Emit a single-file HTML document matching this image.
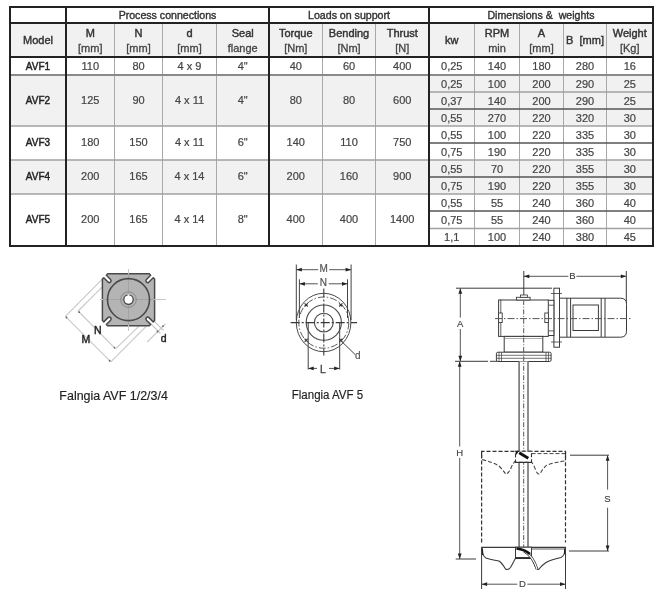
<!DOCTYPE html>
<html><head><meta charset="utf-8"><style>
html,body{margin:0;padding:0;background:#fff;width:662px;height:593px;overflow:hidden}
svg{display:block;font-family:"Liberation Sans", sans-serif;will-change:transform}
text{white-space:pre}
</style></head><body>
<svg width="662" height="593" viewBox="0 0 662 593">
<rect width="662" height="593" fill="#fff"/>
<rect x="10" y="23" width="643" height="34" fill="#f1f1f1"/>
<rect x="10" y="75" width="643" height="51" fill="#f1f1f1"/>
<rect x="10" y="160" width="643" height="34" fill="#f1f1f1"/>
<line x1="114.5" y1="23" x2="114.5" y2="246" stroke="#a8a8a8" stroke-width="1"/>
<line x1="162.5" y1="23" x2="162.5" y2="246" stroke="#a8a8a8" stroke-width="1"/>
<line x1="216.5" y1="23" x2="216.5" y2="246" stroke="#a8a8a8" stroke-width="1"/>
<line x1="322.5" y1="23" x2="322.5" y2="246" stroke="#a8a8a8" stroke-width="1"/>
<line x1="375.5" y1="23" x2="375.5" y2="246" stroke="#a8a8a8" stroke-width="1"/>
<line x1="474.5" y1="23" x2="474.5" y2="246" stroke="#a8a8a8" stroke-width="1"/>
<line x1="519.5" y1="23" x2="519.5" y2="246" stroke="#a8a8a8" stroke-width="1"/>
<line x1="563.5" y1="23" x2="563.5" y2="246" stroke="#a8a8a8" stroke-width="1"/>
<line x1="606.5" y1="23" x2="606.5" y2="246" stroke="#a8a8a8" stroke-width="1"/>
<line x1="10" y1="75" x2="653" y2="75" stroke="#8a8a8a" stroke-width="2"/>
<line x1="10" y1="126" x2="653" y2="126" stroke="#a0a0a0" stroke-width="1.5"/>
<line x1="10" y1="160" x2="653" y2="160" stroke="#a0a0a0" stroke-width="1.5"/>
<line x1="10" y1="194" x2="653" y2="194" stroke="#a0a0a0" stroke-width="1.5"/>
<line x1="429" y1="92" x2="653" y2="92" stroke="#a0a0a0" stroke-width="1.5"/>
<line x1="429" y1="109" x2="653" y2="109" stroke="#555" stroke-width="1.6"/>
<line x1="429" y1="143" x2="653" y2="143" stroke="#555" stroke-width="1.6"/>
<line x1="429" y1="177" x2="653" y2="177" stroke="#555" stroke-width="1.6"/>
<line x1="429" y1="211" x2="653" y2="211" stroke="#555" stroke-width="1.6"/>
<line x1="429" y1="228.5" x2="653" y2="228.5" stroke="#a0a0a0" stroke-width="1.5"/>
<line x1="9" y1="7" x2="654" y2="7" stroke="#222" stroke-width="2"/>
<line x1="9" y1="23" x2="654" y2="23" stroke="#222" stroke-width="2"/>
<line x1="9" y1="57" x2="654" y2="57" stroke="#222" stroke-width="2"/>
<line x1="9" y1="246" x2="654" y2="246" stroke="#222" stroke-width="2"/>
<line x1="10" y1="6" x2="10" y2="247" stroke="#222" stroke-width="2"/>
<line x1="66" y1="6" x2="66" y2="247" stroke="#222" stroke-width="2"/>
<line x1="269" y1="6" x2="269" y2="247" stroke="#222" stroke-width="2"/>
<line x1="429" y1="6" x2="429" y2="247" stroke="#222" stroke-width="2"/>
<line x1="653" y1="6" x2="653" y2="247" stroke="#222" stroke-width="2"/>
<text x="167.5" y="18.7" font-size="10.6" fill="#333" font-weight="normal" text-anchor="middle" stroke="#333" stroke-width="0.38" >Process connections</text>
<text x="349.0" y="18.7" font-size="10.6" fill="#333" font-weight="normal" text-anchor="middle" stroke="#333" stroke-width="0.38" >Loads on support</text>
<text x="541.0" y="18.7" font-size="10.6" fill="#333" font-weight="normal" text-anchor="middle" stroke="#333" stroke-width="0.38" >Dimensions &amp;  weights</text>
<text x="38.0" y="44.4" font-size="11" fill="#333" font-weight="normal" text-anchor="middle" stroke="#333" stroke-width="0.42" >Model</text>
<text x="90.25" y="36.6" font-size="11" fill="#333" font-weight="normal" text-anchor="middle" stroke="#333" stroke-width="0.42" >M</text>
<text x="90.25" y="52" font-size="11" fill="#444" font-weight="normal" text-anchor="middle" stroke="#444" stroke-width="0.3" >[mm]</text>
<text x="138.5" y="36.6" font-size="11" fill="#333" font-weight="normal" text-anchor="middle" stroke="#333" stroke-width="0.42" >N</text>
<text x="138.5" y="52" font-size="11" fill="#444" font-weight="normal" text-anchor="middle" stroke="#444" stroke-width="0.3" >[mm]</text>
<text x="189.5" y="36.6" font-size="11" fill="#333" font-weight="normal" text-anchor="middle" stroke="#333" stroke-width="0.42" >d</text>
<text x="189.5" y="52" font-size="11" fill="#444" font-weight="normal" text-anchor="middle" stroke="#444" stroke-width="0.3" >[mm]</text>
<text x="242.75" y="36.6" font-size="11" fill="#333" font-weight="normal" text-anchor="middle" stroke="#333" stroke-width="0.42" >Seal</text>
<text x="242.75" y="52" font-size="11" fill="#444" font-weight="normal" text-anchor="middle" stroke="#444" stroke-width="0.3" >flange</text>
<text x="295.75" y="36.6" font-size="11" fill="#333" font-weight="normal" text-anchor="middle" stroke="#333" stroke-width="0.42" >Torque</text>
<text x="295.75" y="52" font-size="11" fill="#444" font-weight="normal" text-anchor="middle" stroke="#444" stroke-width="0.3" >[Nm]</text>
<text x="349.0" y="36.6" font-size="11" fill="#333" font-weight="normal" text-anchor="middle" stroke="#333" stroke-width="0.42" >Bending</text>
<text x="349.0" y="52" font-size="11" fill="#444" font-weight="normal" text-anchor="middle" stroke="#444" stroke-width="0.3" >[Nm]</text>
<text x="402.25" y="36.6" font-size="11" fill="#333" font-weight="normal" text-anchor="middle" stroke="#333" stroke-width="0.42" >Thrust</text>
<text x="402.25" y="52" font-size="11" fill="#444" font-weight="normal" text-anchor="middle" stroke="#444" stroke-width="0.3" >[N]</text>
<text x="451.75" y="44.4" font-size="11" fill="#333" font-weight="normal" text-anchor="middle" stroke="#333" stroke-width="0.42" >kw</text>
<text x="497.0" y="36.6" font-size="11" fill="#333" font-weight="normal" text-anchor="middle" stroke="#333" stroke-width="0.42" >RPM</text>
<text x="497.0" y="52" font-size="11" fill="#444" font-weight="normal" text-anchor="middle" stroke="#444" stroke-width="0.3" >min</text>
<text x="541.5" y="36.6" font-size="11" fill="#333" font-weight="normal" text-anchor="middle" stroke="#333" stroke-width="0.42" >A</text>
<text x="541.5" y="52" font-size="11" fill="#444" font-weight="normal" text-anchor="middle" stroke="#444" stroke-width="0.3" >[mm]</text>
<text x="585.0" y="44.4" font-size="11" fill="#333" font-weight="normal" text-anchor="middle" stroke="#333" stroke-width="0.42" >B  [mm]</text>
<text x="629.75" y="36.6" font-size="11" fill="#333" font-weight="normal" text-anchor="middle" stroke="#333" stroke-width="0.42" >Weight</text>
<text x="629.75" y="52" font-size="11" fill="#444" font-weight="normal" text-anchor="middle" stroke="#444" stroke-width="0.3" >[Kg]</text>
<text x="38.0" y="70.0" font-size="11" fill="#222" font-weight="normal" text-anchor="middle" stroke="#222" stroke-width="0.45" textLength="24.3" lengthAdjust="spacingAndGlyphs">AVF1</text>
<text x="90.25" y="70.0" font-size="11" fill="#444" font-weight="normal" text-anchor="middle" stroke="#444" stroke-width="0.2" >110</text>
<text x="138.5" y="70.0" font-size="11" fill="#444" font-weight="normal" text-anchor="middle" stroke="#444" stroke-width="0.2" >80</text>
<text x="189.5" y="70.0" font-size="11" fill="#444" font-weight="normal" text-anchor="middle" stroke="#444" stroke-width="0.2" >4 x 9</text>
<text x="242.75" y="70.0" font-size="11" fill="#444" font-weight="normal" text-anchor="middle" stroke="#444" stroke-width="0.2" >4"</text>
<text x="295.75" y="70.0" font-size="11" fill="#444" font-weight="normal" text-anchor="middle" stroke="#444" stroke-width="0.2" >40</text>
<text x="349.0" y="70.0" font-size="11" fill="#444" font-weight="normal" text-anchor="middle" stroke="#444" stroke-width="0.2" >60</text>
<text x="402.25" y="70.0" font-size="11" fill="#444" font-weight="normal" text-anchor="middle" stroke="#444" stroke-width="0.2" >400</text>
<text x="38.0" y="103.75" font-size="11" fill="#222" font-weight="normal" text-anchor="middle" stroke="#222" stroke-width="0.45" textLength="24.3" lengthAdjust="spacingAndGlyphs">AVF2</text>
<text x="90.25" y="103.75" font-size="11" fill="#444" font-weight="normal" text-anchor="middle" stroke="#444" stroke-width="0.2" >125</text>
<text x="138.5" y="103.75" font-size="11" fill="#444" font-weight="normal" text-anchor="middle" stroke="#444" stroke-width="0.2" >90</text>
<text x="189.5" y="103.75" font-size="11" fill="#444" font-weight="normal" text-anchor="middle" stroke="#444" stroke-width="0.2" >4 x 11</text>
<text x="242.75" y="103.75" font-size="11" fill="#444" font-weight="normal" text-anchor="middle" stroke="#444" stroke-width="0.2" >4"</text>
<text x="295.75" y="103.75" font-size="11" fill="#444" font-weight="normal" text-anchor="middle" stroke="#444" stroke-width="0.2" >80</text>
<text x="349.0" y="103.75" font-size="11" fill="#444" font-weight="normal" text-anchor="middle" stroke="#444" stroke-width="0.2" >80</text>
<text x="402.25" y="103.75" font-size="11" fill="#444" font-weight="normal" text-anchor="middle" stroke="#444" stroke-width="0.2" >600</text>
<text x="38.0" y="146.25" font-size="11" fill="#222" font-weight="normal" text-anchor="middle" stroke="#222" stroke-width="0.45" textLength="24.3" lengthAdjust="spacingAndGlyphs">AVF3</text>
<text x="90.25" y="146.25" font-size="11" fill="#444" font-weight="normal" text-anchor="middle" stroke="#444" stroke-width="0.2" >180</text>
<text x="138.5" y="146.25" font-size="11" fill="#444" font-weight="normal" text-anchor="middle" stroke="#444" stroke-width="0.2" >150</text>
<text x="189.5" y="146.25" font-size="11" fill="#444" font-weight="normal" text-anchor="middle" stroke="#444" stroke-width="0.2" >4 x 11</text>
<text x="242.75" y="146.25" font-size="11" fill="#444" font-weight="normal" text-anchor="middle" stroke="#444" stroke-width="0.2" >6"</text>
<text x="295.75" y="146.25" font-size="11" fill="#444" font-weight="normal" text-anchor="middle" stroke="#444" stroke-width="0.2" >140</text>
<text x="349.0" y="146.25" font-size="11" fill="#444" font-weight="normal" text-anchor="middle" stroke="#444" stroke-width="0.2" >110</text>
<text x="402.25" y="146.25" font-size="11" fill="#444" font-weight="normal" text-anchor="middle" stroke="#444" stroke-width="0.2" >750</text>
<text x="38.0" y="180.25" font-size="11" fill="#222" font-weight="normal" text-anchor="middle" stroke="#222" stroke-width="0.45" textLength="24.3" lengthAdjust="spacingAndGlyphs">AVF4</text>
<text x="90.25" y="180.25" font-size="11" fill="#444" font-weight="normal" text-anchor="middle" stroke="#444" stroke-width="0.2" >200</text>
<text x="138.5" y="180.25" font-size="11" fill="#444" font-weight="normal" text-anchor="middle" stroke="#444" stroke-width="0.2" >165</text>
<text x="189.5" y="180.25" font-size="11" fill="#444" font-weight="normal" text-anchor="middle" stroke="#444" stroke-width="0.2" >4 x 14</text>
<text x="242.75" y="180.25" font-size="11" fill="#444" font-weight="normal" text-anchor="middle" stroke="#444" stroke-width="0.2" >6"</text>
<text x="295.75" y="180.25" font-size="11" fill="#444" font-weight="normal" text-anchor="middle" stroke="#444" stroke-width="0.2" >200</text>
<text x="349.0" y="180.25" font-size="11" fill="#444" font-weight="normal" text-anchor="middle" stroke="#444" stroke-width="0.2" >160</text>
<text x="402.25" y="180.25" font-size="11" fill="#444" font-weight="normal" text-anchor="middle" stroke="#444" stroke-width="0.2" >900</text>
<text x="38.0" y="223.25" font-size="11" fill="#222" font-weight="normal" text-anchor="middle" stroke="#222" stroke-width="0.45" textLength="24.3" lengthAdjust="spacingAndGlyphs">AVF5</text>
<text x="90.25" y="223.25" font-size="11" fill="#444" font-weight="normal" text-anchor="middle" stroke="#444" stroke-width="0.2" >200</text>
<text x="138.5" y="223.25" font-size="11" fill="#444" font-weight="normal" text-anchor="middle" stroke="#444" stroke-width="0.2" >165</text>
<text x="189.5" y="223.25" font-size="11" fill="#444" font-weight="normal" text-anchor="middle" stroke="#444" stroke-width="0.2" >4 x 14</text>
<text x="242.75" y="223.25" font-size="11" fill="#444" font-weight="normal" text-anchor="middle" stroke="#444" stroke-width="0.2" >8"</text>
<text x="295.75" y="223.25" font-size="11" fill="#444" font-weight="normal" text-anchor="middle" stroke="#444" stroke-width="0.2" >400</text>
<text x="349.0" y="223.25" font-size="11" fill="#444" font-weight="normal" text-anchor="middle" stroke="#444" stroke-width="0.2" >400</text>
<text x="402.25" y="223.25" font-size="11" fill="#444" font-weight="normal" text-anchor="middle" stroke="#444" stroke-width="0.2" >1400</text>
<text x="451.75" y="70.0" font-size="11" fill="#444" font-weight="normal" text-anchor="middle" stroke="#444" stroke-width="0.2" >0,25</text>
<text x="497.0" y="70.0" font-size="11" fill="#444" font-weight="normal" text-anchor="middle" stroke="#444" stroke-width="0.2" >140</text>
<text x="541.5" y="70.0" font-size="11" fill="#444" font-weight="normal" text-anchor="middle" stroke="#444" stroke-width="0.2" >180</text>
<text x="585.0" y="70.0" font-size="11" fill="#444" font-weight="normal" text-anchor="middle" stroke="#444" stroke-width="0.2" >280</text>
<text x="629.75" y="70.0" font-size="11" fill="#444" font-weight="normal" text-anchor="middle" stroke="#444" stroke-width="0.2" >16</text>
<text x="451.75" y="87.5" font-size="11" fill="#444" font-weight="normal" text-anchor="middle" stroke="#444" stroke-width="0.2" >0,25</text>
<text x="497.0" y="87.5" font-size="11" fill="#444" font-weight="normal" text-anchor="middle" stroke="#444" stroke-width="0.2" >100</text>
<text x="541.5" y="87.5" font-size="11" fill="#444" font-weight="normal" text-anchor="middle" stroke="#444" stroke-width="0.2" >200</text>
<text x="585.0" y="87.5" font-size="11" fill="#444" font-weight="normal" text-anchor="middle" stroke="#444" stroke-width="0.2" >290</text>
<text x="629.75" y="87.5" font-size="11" fill="#444" font-weight="normal" text-anchor="middle" stroke="#444" stroke-width="0.2" >25</text>
<text x="451.75" y="104.5" font-size="11" fill="#444" font-weight="normal" text-anchor="middle" stroke="#444" stroke-width="0.2" >0,37</text>
<text x="497.0" y="104.5" font-size="11" fill="#444" font-weight="normal" text-anchor="middle" stroke="#444" stroke-width="0.2" >140</text>
<text x="541.5" y="104.5" font-size="11" fill="#444" font-weight="normal" text-anchor="middle" stroke="#444" stroke-width="0.2" >200</text>
<text x="585.0" y="104.5" font-size="11" fill="#444" font-weight="normal" text-anchor="middle" stroke="#444" stroke-width="0.2" >290</text>
<text x="629.75" y="104.5" font-size="11" fill="#444" font-weight="normal" text-anchor="middle" stroke="#444" stroke-width="0.2" >25</text>
<text x="451.75" y="121.5" font-size="11" fill="#444" font-weight="normal" text-anchor="middle" stroke="#444" stroke-width="0.2" >0,55</text>
<text x="497.0" y="121.5" font-size="11" fill="#444" font-weight="normal" text-anchor="middle" stroke="#444" stroke-width="0.2" >270</text>
<text x="541.5" y="121.5" font-size="11" fill="#444" font-weight="normal" text-anchor="middle" stroke="#444" stroke-width="0.2" >220</text>
<text x="585.0" y="121.5" font-size="11" fill="#444" font-weight="normal" text-anchor="middle" stroke="#444" stroke-width="0.2" >320</text>
<text x="629.75" y="121.5" font-size="11" fill="#444" font-weight="normal" text-anchor="middle" stroke="#444" stroke-width="0.2" >30</text>
<text x="451.75" y="138.5" font-size="11" fill="#444" font-weight="normal" text-anchor="middle" stroke="#444" stroke-width="0.2" >0,55</text>
<text x="497.0" y="138.5" font-size="11" fill="#444" font-weight="normal" text-anchor="middle" stroke="#444" stroke-width="0.2" >100</text>
<text x="541.5" y="138.5" font-size="11" fill="#444" font-weight="normal" text-anchor="middle" stroke="#444" stroke-width="0.2" >220</text>
<text x="585.0" y="138.5" font-size="11" fill="#444" font-weight="normal" text-anchor="middle" stroke="#444" stroke-width="0.2" >335</text>
<text x="629.75" y="138.5" font-size="11" fill="#444" font-weight="normal" text-anchor="middle" stroke="#444" stroke-width="0.2" >30</text>
<text x="451.75" y="155.5" font-size="11" fill="#444" font-weight="normal" text-anchor="middle" stroke="#444" stroke-width="0.2" >0,75</text>
<text x="497.0" y="155.5" font-size="11" fill="#444" font-weight="normal" text-anchor="middle" stroke="#444" stroke-width="0.2" >190</text>
<text x="541.5" y="155.5" font-size="11" fill="#444" font-weight="normal" text-anchor="middle" stroke="#444" stroke-width="0.2" >220</text>
<text x="585.0" y="155.5" font-size="11" fill="#444" font-weight="normal" text-anchor="middle" stroke="#444" stroke-width="0.2" >335</text>
<text x="629.75" y="155.5" font-size="11" fill="#444" font-weight="normal" text-anchor="middle" stroke="#444" stroke-width="0.2" >30</text>
<text x="451.75" y="172.5" font-size="11" fill="#444" font-weight="normal" text-anchor="middle" stroke="#444" stroke-width="0.2" >0,55</text>
<text x="497.0" y="172.5" font-size="11" fill="#444" font-weight="normal" text-anchor="middle" stroke="#444" stroke-width="0.2" >70</text>
<text x="541.5" y="172.5" font-size="11" fill="#444" font-weight="normal" text-anchor="middle" stroke="#444" stroke-width="0.2" >220</text>
<text x="585.0" y="172.5" font-size="11" fill="#444" font-weight="normal" text-anchor="middle" stroke="#444" stroke-width="0.2" >355</text>
<text x="629.75" y="172.5" font-size="11" fill="#444" font-weight="normal" text-anchor="middle" stroke="#444" stroke-width="0.2" >30</text>
<text x="451.75" y="189.5" font-size="11" fill="#444" font-weight="normal" text-anchor="middle" stroke="#444" stroke-width="0.2" >0,75</text>
<text x="497.0" y="189.5" font-size="11" fill="#444" font-weight="normal" text-anchor="middle" stroke="#444" stroke-width="0.2" >190</text>
<text x="541.5" y="189.5" font-size="11" fill="#444" font-weight="normal" text-anchor="middle" stroke="#444" stroke-width="0.2" >220</text>
<text x="585.0" y="189.5" font-size="11" fill="#444" font-weight="normal" text-anchor="middle" stroke="#444" stroke-width="0.2" >355</text>
<text x="629.75" y="189.5" font-size="11" fill="#444" font-weight="normal" text-anchor="middle" stroke="#444" stroke-width="0.2" >30</text>
<text x="451.75" y="206.5" font-size="11" fill="#444" font-weight="normal" text-anchor="middle" stroke="#444" stroke-width="0.2" >0,55</text>
<text x="497.0" y="206.5" font-size="11" fill="#444" font-weight="normal" text-anchor="middle" stroke="#444" stroke-width="0.2" >55</text>
<text x="541.5" y="206.5" font-size="11" fill="#444" font-weight="normal" text-anchor="middle" stroke="#444" stroke-width="0.2" >240</text>
<text x="585.0" y="206.5" font-size="11" fill="#444" font-weight="normal" text-anchor="middle" stroke="#444" stroke-width="0.2" >360</text>
<text x="629.75" y="206.5" font-size="11" fill="#444" font-weight="normal" text-anchor="middle" stroke="#444" stroke-width="0.2" >40</text>
<text x="451.75" y="223.75" font-size="11" fill="#444" font-weight="normal" text-anchor="middle" stroke="#444" stroke-width="0.2" >0,75</text>
<text x="497.0" y="223.75" font-size="11" fill="#444" font-weight="normal" text-anchor="middle" stroke="#444" stroke-width="0.2" >55</text>
<text x="541.5" y="223.75" font-size="11" fill="#444" font-weight="normal" text-anchor="middle" stroke="#444" stroke-width="0.2" >240</text>
<text x="585.0" y="223.75" font-size="11" fill="#444" font-weight="normal" text-anchor="middle" stroke="#444" stroke-width="0.2" >360</text>
<text x="629.75" y="223.75" font-size="11" fill="#444" font-weight="normal" text-anchor="middle" stroke="#444" stroke-width="0.2" >40</text>
<text x="451.75" y="241.25" font-size="11" fill="#444" font-weight="normal" text-anchor="middle" stroke="#444" stroke-width="0.2" >1,1</text>
<text x="497.0" y="241.25" font-size="11" fill="#444" font-weight="normal" text-anchor="middle" stroke="#444" stroke-width="0.2" >100</text>
<text x="541.5" y="241.25" font-size="11" fill="#444" font-weight="normal" text-anchor="middle" stroke="#444" stroke-width="0.2" >240</text>
<text x="585.0" y="241.25" font-size="11" fill="#444" font-weight="normal" text-anchor="middle" stroke="#444" stroke-width="0.2" >380</text>
<text x="629.75" y="241.25" font-size="11" fill="#444" font-weight="normal" text-anchor="middle" stroke="#444" stroke-width="0.2" >45</text>
<line x1="102.3" y1="279.2" x2="65.4" y2="316.3" stroke="#c8c8c8" stroke-width="1.1"/>
<line x1="102.3" y1="286.8" x2="78.1" y2="311.0" stroke="#c8c8c8" stroke-width="1.1"/>
<line x1="65.4" y1="316.3" x2="110.8" y2="361.9" stroke="#c8c8c8" stroke-width="1.1"/>
<line x1="78.1" y1="311.0" x2="115.6" y2="348.8" stroke="#c8c8c8" stroke-width="1.1"/>
<line x1="110.8" y1="361.9" x2="146.6" y2="325.8" stroke="#c8c8c8" stroke-width="1.1"/>
<line x1="115.6" y1="348.8" x2="139.2" y2="325.8" stroke="#c8c8c8" stroke-width="1.1"/>
<line x1="148.5" y1="321.5" x2="160.5" y2="333.5" stroke="#c8c8c8" stroke-width="1.1"/>
<line x1="151.5" y1="318.5" x2="163.5" y2="330.5" stroke="#c8c8c8" stroke-width="1.1"/>
<line x1="147.2" y1="342" x2="165.5" y2="323.8" stroke="#c8c8c8" stroke-width="1.1"/>
<circle cx="66.5" cy="317.5" r="0.9" fill="#666"/>
<circle cx="109.6" cy="360.7" r="0.9" fill="#666"/>
<circle cx="79.2" cy="312.2" r="0.9" fill="#666"/>
<circle cx="114.4" cy="347.6" r="0.9" fill="#666"/>
<circle cx="157.5" cy="331.5" r="0.9" fill="#666"/>
<circle cx="163.0" cy="326.2" r="0.9" fill="#666"/>
<path d="M107.7,273.8 L149.29999999999998,273.8 L149.30,273.80 L150.68,275.18 L146.43,279.42 A1.8,1.8 0 0 0 148.98,281.97 L153.22,277.72 L154.60,279.10 L154.6,320.5 L154.60,320.50 L153.22,321.88 L148.98,317.63 A1.8,1.8 0 0 0 146.43,320.18 L150.68,324.42 L149.30,325.80 L107.7,325.8 L107.70,325.80 L106.32,324.42 L110.57,320.18 A1.8,1.8 0 0 0 108.02,317.63 L103.78,321.88 L102.40,320.50 L102.4,279.1 L102.40,279.10 L103.78,277.72 L108.02,281.97 A1.8,1.8 0 0 0 110.57,279.42 L106.32,275.18 L107.70,273.80 Z" fill="#b4b4b4" stroke="#4a4a4a" stroke-width="1.5" stroke-linejoin="round"/>
<line x1="100" y1="299.5" x2="166" y2="299.5" stroke="#c8c8c8" stroke-width="1"/>
<line x1="128.5" y1="269" x2="128.5" y2="331" stroke="#c8c8c8" stroke-width="1"/>
<line x1="103" y1="299.5" x2="154" y2="299.5" stroke="#9a9a9a" stroke-width="0.8"/>
<line x1="128.5" y1="274" x2="128.5" y2="325" stroke="#9a9a9a" stroke-width="0.8"/>
<circle cx="128.5" cy="299.6" r="21" fill="none" stroke="#4a4a4a" stroke-width="1.6"/>
<circle cx="128.5" cy="299.6" r="7.8" fill="none" stroke="#8a8a8a" stroke-width="1"/>
<circle cx="128.5" cy="299.6" r="4.7" fill="#fff" stroke="#4a4a4a" stroke-width="1.3"/>
<rect x="127.6" y="294.2" width="1.8" height="1.6" fill="#fff"/>
<text x="97.9" y="334.4" font-size="10.5" fill="#222" font-weight="normal" text-anchor="middle" stroke="#222" stroke-width="0.4" >N</text>
<text x="85.8" y="343" font-size="10.5" fill="#222" font-weight="normal" text-anchor="middle" stroke="#222" stroke-width="0.4" >M</text>
<text x="163.7" y="342" font-size="10.5" fill="#222" font-weight="normal" text-anchor="middle" stroke="#222" stroke-width="0.4" >d</text>
<text x="113.6" y="400.2" font-size="12" fill="#222" font-weight="normal" text-anchor="middle" stroke="#222" stroke-width="0.15" textLength="108.5" lengthAdjust="spacingAndGlyphs">Falngia AVF 1/2/3/4</text>
<ellipse cx="323.6" cy="322.5" rx="27.3" ry="29.2" fill="none" stroke="#4a4a4a" stroke-width="1"/>
<ellipse cx="323.8" cy="322.6" rx="25" ry="25.6" fill="none" stroke="#5a5a5a" stroke-width="1" stroke-dasharray="7 2 1.5 2"/>
<circle cx="323.8" cy="322.6" r="17.6" fill="none" stroke="#4a4a4a" stroke-width="1.1"/>
<circle cx="323.8" cy="322.6" r="9.4" fill="none" stroke="#4a4a4a" stroke-width="1.1"/>
<line x1="290.7" y1="322.6" x2="357" y2="322.6" stroke="#3a3a3a" stroke-width="1.1" stroke-dasharray="9 2 2 2"/>
<line x1="323.8" y1="288.6" x2="323.8" y2="355.5" stroke="#3a3a3a" stroke-width="1.1" stroke-dasharray="9 2 2 2"/>
<path d="M304.59999999999997,303.29999999999995 L307.8,306.5 M304.59999999999997,306.5 L307.8,303.29999999999995" stroke="#333" stroke-width="1.1"/>
<path d="M339.2,303.29999999999995 L342.40000000000003,306.5 M339.2,306.5 L342.40000000000003,303.29999999999995" stroke="#333" stroke-width="1.1"/>
<path d="M304.59999999999997,338.7 L307.8,341.90000000000003 M304.59999999999997,341.90000000000003 L307.8,338.7" stroke="#333" stroke-width="1.1"/>
<path d="M339.2,338.7 L342.40000000000003,341.90000000000003 M339.2,341.90000000000003 L342.40000000000003,338.7" stroke="#333" stroke-width="1.1"/>
<line x1="296.3" y1="264.5" x2="296.3" y2="320" stroke="#444" stroke-width="1"/>
<line x1="351.1" y1="264.5" x2="351.1" y2="320" stroke="#444" stroke-width="1"/>
<line x1="299.4" y1="279.3" x2="299.4" y2="318" stroke="#444" stroke-width="1"/>
<line x1="347.5" y1="279.3" x2="347.5" y2="318" stroke="#444" stroke-width="1"/>
<line x1="308.2" y1="323" x2="308.2" y2="369.5" stroke="#444" stroke-width="1"/>
<line x1="339.7" y1="323" x2="339.7" y2="369.5" stroke="#444" stroke-width="1"/>
<line x1="296.3" y1="269.7" x2="318.2" y2="269.7" stroke="#555" stroke-width="1"/>
<line x1="329.2" y1="269.7" x2="351.1" y2="269.7" stroke="#555" stroke-width="1"/>
<polygon points="296.3,269.7 301.8,267.8 301.8,271.59999999999997" fill="#222"/>
<polygon points="351.1,269.7 345.6,267.8 345.6,271.59999999999997" fill="#222"/>
<text x="323.7" y="271.8" font-size="10" fill="#555" font-weight="normal" text-anchor="middle" stroke="#555" stroke-width="0.2" >M</text>
<line x1="299.4" y1="283.8" x2="317.8" y2="283.8" stroke="#555" stroke-width="1"/>
<line x1="328.8" y1="283.8" x2="347.5" y2="283.8" stroke="#555" stroke-width="1"/>
<polygon points="299.4,283.8 304.9,281.90000000000003 304.9,285.7" fill="#222"/>
<polygon points="347.5,283.8 342.0,281.90000000000003 342.0,285.7" fill="#222"/>
<text x="323.3" y="285.9" font-size="10" fill="#555" font-weight="normal" text-anchor="middle" stroke="#555" stroke-width="0.2" >N</text>
<line x1="308.2" y1="368.4" x2="317.0" y2="368.4" stroke="#555" stroke-width="1"/>
<line x1="329.0" y1="368.4" x2="339.7" y2="368.4" stroke="#555" stroke-width="1"/>
<polygon points="308.2,368.4 313.7,366.5 313.7,370.29999999999995" fill="#222"/>
<polygon points="339.7,368.4 334.2,366.5 334.2,370.29999999999995" fill="#222"/>
<text x="323.0" y="372.7" font-size="10.5" fill="#444" font-weight="normal" text-anchor="middle" stroke="#444" stroke-width="0.3" >L</text>
<line x1="341" y1="340.8" x2="355.2" y2="354.6" stroke="#444" stroke-width="1"/>
<text x="357.9" y="358.9" font-size="10" fill="#555" font-weight="normal" text-anchor="middle" stroke="#555" stroke-width="0.2" >d</text>
<text x="327.45" y="398.9" font-size="12" fill="#222" font-weight="normal" text-anchor="middle" stroke="#222" stroke-width="0.15" textLength="71.3" lengthAdjust="spacingAndGlyphs">Flangia AVF 5</text>
<line x1="523.8" y1="271" x2="523.8" y2="300" stroke="#3a3a3a" stroke-width="1"/>
<line x1="626.3" y1="271" x2="626.3" y2="303" stroke="#3a3a3a" stroke-width="1"/>
<line x1="523.8" y1="276.3" x2="568.4" y2="276.3" stroke="#555" stroke-width="1"/>
<line x1="576.4" y1="276.3" x2="626.3" y2="276.3" stroke="#555" stroke-width="1"/>
<polygon points="523.8,276.3 529.3,274.40000000000003 529.3,278.2" fill="#222"/>
<polygon points="626.3,276.3 620.8,274.40000000000003 620.8,278.2" fill="#222"/>
<text x="572.4" y="278.9" font-size="9.5" fill="#444" font-weight="normal" text-anchor="middle" stroke="#444" stroke-width="0.15" >B</text>
<line x1="456" y1="288.2" x2="552" y2="288.2" stroke="#3a3a3a" stroke-width="1"/>
<line x1="460.3" y1="288.2" x2="460.3" y2="317.6" stroke="#555" stroke-width="1"/>
<line x1="460.3" y1="329.0" x2="460.3" y2="361.3" stroke="#555" stroke-width="1"/>
<polygon points="460.3,288.2 458.40000000000003,293.7 462.2,293.7" fill="#222"/>
<polygon points="460.3,361.3 458.40000000000003,355.8 462.2,355.8" fill="#222"/>
<text x="460.2" y="326.8" font-size="9.5" fill="#444" font-weight="normal" text-anchor="middle" stroke="#444" stroke-width="0.15" >A</text>
<line x1="455" y1="361.3" x2="488" y2="361.3" stroke="#3a3a3a" stroke-width="1"/>
<line x1="490" y1="361.3" x2="497" y2="361.3" stroke="#3a3a3a" stroke-width="1"/>
<line x1="459.7" y1="361.3" x2="459.7" y2="446.5" stroke="#555" stroke-width="1"/>
<line x1="459.7" y1="457.9" x2="459.7" y2="559" stroke="#555" stroke-width="1"/>
<polygon points="459.7,361.3 457.8,366.8 461.59999999999997,366.8" fill="#222"/>
<polygon points="459.7,559 457.8,553.5 461.59999999999997,553.5" fill="#222"/>
<text x="459.7" y="455.8" font-size="9.5" fill="#444" font-weight="normal" text-anchor="middle" stroke="#444" stroke-width="0.15" >H</text>
<line x1="455.7" y1="559" x2="476" y2="559" stroke="#3a3a3a" stroke-width="1"/>
<rect x="553.9" y="288.2" width="5.6" height="59" fill="#fff" stroke="#3a3a3a" stroke-width="1"/>
<line x1="551" y1="293.5" x2="562" y2="293.5" stroke="#3a3a3a" stroke-width="0.8"/>
<line x1="551" y1="342" x2="562" y2="342" stroke="#3a3a3a" stroke-width="0.8"/>
<path d="M559.5,298.2 H620.5 Q626.5,298.2 626.5,304.2 V331.2 Q626.5,337.2 620.5,337.2 H559.5 Z" fill="#fff" stroke="#3a3a3a" stroke-width="1"/>
<line x1="566.9" y1="298" x2="566.9" y2="337" stroke="#3a3a3a" stroke-width="1"/>
<line x1="570.6" y1="298" x2="570.6" y2="337" stroke="#3a3a3a" stroke-width="1"/>
<line x1="601.2" y1="298" x2="601.2" y2="337" stroke="#3a3a3a" stroke-width="1"/>
<line x1="605" y1="298" x2="605" y2="337" stroke="#3a3a3a" stroke-width="1"/>
<rect x="573" y="305" width="25.4" height="25.5" fill="#fff" stroke="#3a3a3a" stroke-width="1"/>
<rect x="547.4" y="300.3" width="6.5" height="35.2" fill="#fff" stroke="#3a3a3a" stroke-width="1"/>
<line x1="548.7" y1="305.2" x2="553.9" y2="305.2" stroke="#3a3a3a" stroke-width="0.8"/>
<line x1="548.7" y1="330.9" x2="553.9" y2="330.9" stroke="#3a3a3a" stroke-width="0.8"/>
<rect x="498.6" y="300" width="49.7" height="36.4" fill="#fff" stroke="#3a3a3a" stroke-width="1"/>
<line x1="500.8" y1="299.3" x2="500.8" y2="336.4" stroke="#3a3a3a" stroke-width="0.8"/>
<rect x="498.6" y="313" width="3.6" height="9.5" fill="#fff" stroke="#3a3a3a" stroke-width="0.9"/>
<rect x="544.8" y="313" width="3.6" height="9.5" fill="#fff" stroke="#3a3a3a" stroke-width="0.9"/>
<rect x="516.4" y="297.3" width="13.7" height="2.7" fill="#fff" stroke="#3a3a3a" stroke-width="0.9"/>
<rect x="520.5" y="295" width="7" height="2.3" fill="#fff" stroke="#3a3a3a" stroke-width="0.8"/>
<rect x="504.2" y="336.4" width="38.6" height="15.8" fill="#fff" stroke="#3a3a3a" stroke-width="1"/>
<line x1="505" y1="338.5" x2="542" y2="338.5" stroke="#999" stroke-width="0.8"/>
<rect x="496.4" y="352.2" width="54.7" height="9.3" rx="1.5" fill="#fff" stroke="#3a3a3a" stroke-width="1"/>
<line x1="497" y1="355.3" x2="551" y2="355.3" stroke="#3a3a3a" stroke-width="0.7"/>
<line x1="497" y1="358.3" x2="551" y2="358.3" stroke="#3a3a3a" stroke-width="0.7"/>
<line x1="499" y1="352.2" x2="499" y2="361.5" stroke="#3a3a3a" stroke-width="0.7"/>
<line x1="501.5" y1="352.2" x2="501.5" y2="361.5" stroke="#3a3a3a" stroke-width="0.7"/>
<line x1="546" y1="352.2" x2="546" y2="361.5" stroke="#3a3a3a" stroke-width="0.7"/>
<line x1="548.5" y1="352.2" x2="548.5" y2="361.5" stroke="#3a3a3a" stroke-width="0.7"/>
<line x1="495" y1="318.6" x2="631" y2="318.6" stroke="#555" stroke-width="1" stroke-dasharray="7 2 1.5 2"/>
<rect x="519" y="361.5" width="9.5" height="185.5" fill="#fff" stroke="none"/>
<line x1="519.1" y1="361.5" x2="519.1" y2="547" stroke="#6a6a6a" stroke-width="1.5"/>
<line x1="528" y1="361.5" x2="528" y2="547" stroke="#6a6a6a" stroke-width="1.5"/>
<line x1="523.7" y1="300" x2="523.7" y2="560" stroke="#555" stroke-width="1" stroke-dasharray="5 1.7 1 1.7"/>
<path d="M481.6,542.4 V451.3 H565.5 V542.4" fill="none" stroke="#333" stroke-width="1.2" stroke-dasharray="4 2"/>
<line x1="531.5" y1="453.6" x2="565" y2="453.6" stroke="#444" stroke-width="1" stroke-dasharray="4 2"/>
<line x1="481.6" y1="451.3" x2="481.6" y2="458" stroke="#333" stroke-width="1.2"/>
<line x1="565.5" y1="451.3" x2="565.5" y2="458" stroke="#333" stroke-width="1.2"/>
<path d="M482.2,459.6 Q492,462 499,466 Q503,470 505.8,474.2 Q509,473 511,468 Q513,463 515.5,461" fill="none" stroke="#444" stroke-width="1.1" stroke-dasharray="4 2"/>
<path d="M530.8,461 Q534,465 536,471 Q537.7,475 540,474 Q543,468 547,465 Q556,462 564.8,461" fill="none" stroke="#444" stroke-width="1.1" stroke-dasharray="4 2"/>
<rect x="515.5" y="451.3" width="16" height="11.1" fill="#fff" stroke="#333" stroke-width="1.1" stroke-dasharray="4 2"/>
<line x1="515.5" y1="462.4" x2="531.5" y2="462.4" stroke="#333" stroke-width="1.2"/>
<line x1="519.2" y1="452.8" x2="528.3" y2="458.2" stroke="#111" stroke-width="3"/>
<path d="M515.5,451.3 L519,451.3 L516,455 Z" fill="#111"/>
<path d="M481.6,547.4 H565.5 L565.5,549 Q565.2,555 561,557.5 Q550,560 546,562.5 Q541,566 539,569 Q537.5,570.5 535.5,567 Q533,561 531.5,558.2 H515.5 Q513,563 510.5,567.5 Q508,570.5 505.5,569 Q502,563 499,561 Q490,559.5 486,558 Q482.5,556 482.2,550 Z" fill="#fff" stroke="#3a3a3a" stroke-width="1.1"/>
<line x1="531.5" y1="549" x2="565.5" y2="549" stroke="#3a3a3a" stroke-width="0.8"/>
<line x1="482.2" y1="548.5" x2="482.6" y2="555" stroke="#222" stroke-width="1.6"/>
<line x1="565" y1="548.5" x2="564.6" y2="554" stroke="#222" stroke-width="1.6"/>
<rect x="515.5" y="547.2" width="16" height="10.8" fill="#fff" stroke="#3a3a3a" stroke-width="1"/>
<line x1="515.5" y1="558" x2="531.5" y2="558" stroke="#222" stroke-width="1.6"/>
<path d="M524,551 Q533,556 537,569" fill="none" stroke="#3a3a3a" stroke-width="2.6"/>
<path d="M524,551 Q533,556 537,569" fill="none" stroke="#fff" stroke-width="1.1"/>
<path d="M516.5,548.5 Q525,549.5 530,554" fill="none" stroke="#111" stroke-width="2.6"/>
<line x1="481.6" y1="548" x2="481.6" y2="589" stroke="#3a3a3a" stroke-width="1"/>
<line x1="565.5" y1="548" x2="565.5" y2="589" stroke="#3a3a3a" stroke-width="1"/>
<line x1="481.6" y1="584.2" x2="517.3" y2="584.2" stroke="#555" stroke-width="1"/>
<line x1="527.3" y1="584.2" x2="565.5" y2="584.2" stroke="#555" stroke-width="1"/>
<polygon points="481.6,584.2 487.1,582.3000000000001 487.1,586.1" fill="#222"/>
<polygon points="565.5,584.2 560.0,582.3000000000001 560.0,586.1" fill="#222"/>
<text x="522.4" y="587.3" font-size="9.5" fill="#444" font-weight="normal" text-anchor="middle" stroke="#444" stroke-width="0.15" >D</text>
<line x1="570" y1="455.2" x2="609" y2="455.2" stroke="#3a3a3a" stroke-width="1"/>
<line x1="569" y1="551" x2="609" y2="551" stroke="#3a3a3a" stroke-width="1"/>
<line x1="607.6" y1="455.2" x2="607.6" y2="489.7" stroke="#555" stroke-width="1"/>
<line x1="607.6" y1="507.7" x2="607.6" y2="551" stroke="#555" stroke-width="1"/>
<polygon points="607.6,455.2 605.7,460.7 609.5,460.7" fill="#222"/>
<polygon points="607.6,551 605.7,545.5 609.5,545.5" fill="#222"/>
<text x="607.3" y="501.8" font-size="9.5" fill="#444" font-weight="normal" text-anchor="middle" stroke="#444" stroke-width="0.15" >S</text>
</svg>
</body></html>
